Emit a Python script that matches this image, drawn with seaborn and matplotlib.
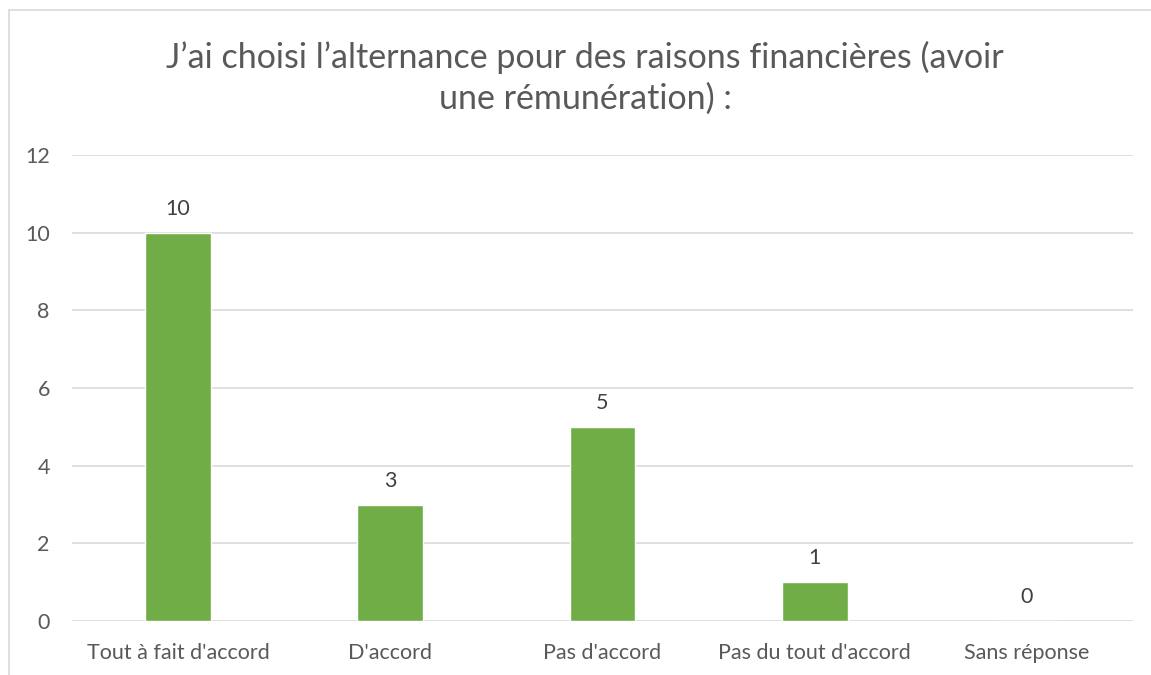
import matplotlib
matplotlib.use("Agg")
import matplotlib.pyplot as plt
import seaborn as sns
import pandas as pd
from matplotlib.patches import Rectangle

categories = ["Tout à fait d'accord", "D'accord", "Pas d'accord", "Pas du tout d'accord", "Sans réponse"]
values = [10, 3, 5, 1, 0]
yticks = [0, 2, 4, 6, 8, 10, 12]
title = "J’ai choisi l’alternance pour des raisons financières (avoir\nune rémunération) :"

sns.set_theme(style="white")
plt.rcParams['font.family'] = ['Lato', 'DejaVu Sans']

TEXT = "#595959"
df = pd.DataFrame({"cat": categories, "val": values})

fig = plt.figure(figsize=(11.51, 6.75), dpi=100)
fig.patches.append(Rectangle((9/1151, -0.1), 1.2, (665)/675 + 0.1, transform=fig.transFigure,
                             fill=False, edgecolor="#D9D9D9", linewidth=1.2))
ax = fig.add_axes([72/1151, 54/675, (1133-72)/1151, (621-155)/675])
sns.barplot(data=df, x="cat", y="val", color="#70AD47", width=0.31, saturation=1, ax=ax)
ax.set_ylim(0, 12)
ax.set_yticks(yticks)
ax.set_yticklabels([str(t) for t in yticks], fontsize=15.5, color=TEXT)
ax.tick_params(axis='x', labelsize=15.5, labelcolor=TEXT, length=0, pad=16)
ax.tick_params(axis='y', length=0, pad=16)
ax.yaxis.grid(True, color="#D9D9D9", linewidth=1.2)
ax.set_axisbelow(True)
for s in ax.spines.values():
    s.set_visible(False)
ax.set_xlabel("")
ax.set_ylabel("")
for c in ax.containers:
    ax.bar_label(c, labels=[str(v) for v in values], padding=10, fontsize=15.5, color="#404040")
fig.text(585/1151, 1 - 78/675, title, ha="center", va="center", fontsize=24.5,
         color=TEXT, linespacing=1.35)
fig.savefig("out.png", dpi=100)
